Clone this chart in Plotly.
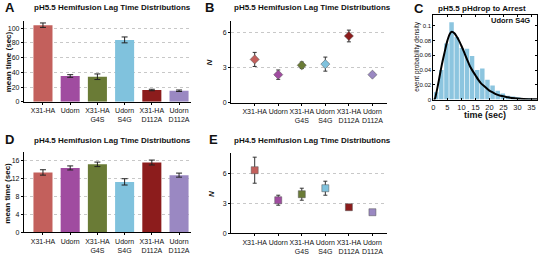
import plotly.graph_objects as go

W, H = 538, 256
FONT = "Liberation Sans"

categories = ["X31-HA", "Udorn", "X31-HA G4S", "Udorn S4G", "X31-HA D112A", "Udorn D112A"]
tick_labels = ["X31-HA", "Udorn", "X31-HA<br>G4S", "Udorn<br>S4G", "X31-HA<br>D112A", "Udorn<br>D112A"]
colors = ["#c3605c", "#a04ca0", "#6a7b36", "#80c2dd", "#8c1c1c", "#9a88c2"]

# Panel A: pH5.5 mean time (sec)
a_mean = [104, 35, 34, 84, 16, 15]
a_err = [3, 1.8, 3.8, 4, 1, 1]
# Panel B: pH5.5 N
b_n = [3.7, 2.4, 3.2, 3.3, 5.7, 2.4]
b_err = [0.6, 0.4, 0.28, 0.6, 0.5, 0.15]
# Panel D: pH4.5 mean time (sec)
d_mean = [13.3, 14.3, 15.1, 11.2, 15.5, 12.7]
d_err = [0.6, 0.45, 0.5, 0.7, 0.55, 0.45]
# Panel E: pH4.5 N
e_n = [6.3, 3.3, 3.9, 4.5, 2.6, 2.1]
e_err = [1.3, 0.5, 0.6, 0.7, 0.2, 0.1]

# Panel C: histogram (bin centers, densities) and fitted curve
c_bin_centers = [1.0, 2.83, 4.66, 6.49, 8.32, 10.15, 11.98, 13.81, 15.64, 17.47, 19.3,
                 21.13, 22.96, 24.79, 26.62, 28.45, 30.28, 32.11, 33.94, 35.77]
c_density = [0.01, 0.04, 0.076, 0.105, 0.085, 0.07, 0.069, 0.059, 0.04, 0.042, 0.027,
             0.019, 0.012, 0.008, 0.005, 0.004, 0.003, 0.002, 0.002, 0.001]
c_bin_width = 1.6
fit_t = [0, 0.5, 1, 2, 3, 4, 5, 6, 6.6, 7.5, 9, 10, 11.3, 12.5, 13.5, 15, 16, 17, 18.5,
         20, 21, 22.5, 24, 26, 28, 31, 34, 38]
fit_p = [0, 0.001, 0.008, 0.027, 0.047, 0.064, 0.08, 0.09, 0.092, 0.09, 0.081, 0.073,
         0.061, 0.05, 0.042, 0.033, 0.027, 0.022, 0.017, 0.012, 0.010, 0.007, 0.005,
         0.0035, 0.002, 0.001, 0.0005, 0.0002]


def px(x):
    return x / W


def py(y):
    return 1 - y / H


fig = go.Figure()

# A
fig.add_trace(go.Bar(x=categories, y=a_mean, marker=dict(color=colors, line=dict(width=0)),
                     width=0.7,
                     error_y=dict(type="data", array=a_err, color="#222", thickness=1, width=3),
                     xaxis="x", yaxis="y", showlegend=False))
# D
fig.add_trace(go.Bar(x=categories, y=d_mean, marker=dict(color=colors, line=dict(width=0)),
                     width=0.7,
                     error_y=dict(type="data", array=d_err, color="#222", thickness=1, width=3),
                     xaxis="x4", yaxis="y4", showlegend=False))
# B
fig.add_trace(go.Scatter(x=categories, y=b_n, mode="markers",
                         marker=dict(color=colors, symbol="diamond", size=7,
                                     line=dict(width=0.5, color="#555")),
                         error_y=dict(type="data", array=b_err, color="#333", thickness=1, width=2),
                         xaxis="x2", yaxis="y2", showlegend=False))
# E
fig.add_trace(go.Scatter(x=categories, y=e_n, mode="markers",
                         marker=dict(color=colors, symbol="square", size=7,
                                     line=dict(width=0.5, color="#555")),
                         error_y=dict(type="data", array=e_err, color="#333", thickness=1, width=2),
                         xaxis="x5", yaxis="y5", showlegend=False))
# C
fig.add_trace(go.Bar(x=c_bin_centers, y=c_density, width=c_bin_width,
                     marker=dict(color="#8cc5df", line=dict(width=0)),
                     xaxis="x3", yaxis="y3", showlegend=False))
fig.add_trace(go.Scatter(x=fit_t, y=fit_p, mode="lines", line=dict(color="black", width=2, shape="spline"),
                         xaxis="x3", yaxis="y3", showlegend=False))

tickfont = dict(family=FONT, size=7, color="#111")


def cat_xaxis(domain, rng):
    return dict(domain=domain, range=rng, type="category", showline=True, linecolor="black",
                linewidth=1, tickvals=categories, ticktext=tick_labels, tickfont=tickfont,
                tickangle=0, ticks="outside", ticklen=2, tickcolor="black", showgrid=False,
                zeroline=False, fixedrange=True)


def val_yaxis(domain, rng, dtick, anchor):
    return dict(domain=domain, range=rng, dtick=dtick, showline=True, linecolor="black", linewidth=1,
                ticks="outside", ticklen=2, tickcolor="black", tickfont=tickfont,
                showgrid=True, gridcolor="#c8c8c8", griddash="dot", gridwidth=1,
                zeroline=False, anchor=anchor)


A_x = [px(22), px(190)]
B_x = [px(230), px(386)]
fig.update_layout(
    width=W, height=H, margin=dict(l=0, r=0, t=0, b=0),
    paper_bgcolor="white", plot_bgcolor="white", bargap=0.2,
    font=dict(family=FONT, color="#111"),
    xaxis=dict(cat_xaxis(A_x, [-0.7, 5.45]), anchor="y"),
    yaxis=val_yaxis([py(103), py(21)], [0, 110], 20, "x"),
    xaxis2=dict(cat_xaxis(B_x, [-1.0, 5.6]), anchor="y2"),
    yaxis2=val_yaxis([py(104), py(21)], [0, 7], 3, "x2"),
    xaxis4=dict(cat_xaxis(A_x, [-0.7, 5.45]), anchor="y4"),
    yaxis4=val_yaxis([py(235), py(154)], [0, 17.8], 4, "x4"),
    xaxis5=dict(cat_xaxis(B_x, [-1.0, 5.6]), anchor="y5"),
    yaxis5=val_yaxis([py(236), py(155)], [0, 8], 3, "x5"),
    xaxis3=dict(domain=[px(433), px(537)], range=[0, 37], anchor="y3", showline=True, mirror="ticks",
                linecolor="black", linewidth=1, ticks="inside", ticklen=2, tickcolor="black",
                tickvals=[0, 5, 10, 15, 20, 25, 30, 35], tickfont=dict(family=FONT, size=7.5, color="#111"),
                showgrid=False, zeroline=False),
    yaxis3=dict(domain=[py(100.7), py(15)], range=[0, 0.115], anchor="x3", showline=True, mirror="ticks",
                linecolor="black", linewidth=1, ticks="inside", ticklen=2, tickcolor="black",
                tickvals=[0, 0.02, 0.04, 0.06, 0.08, 0.1],
                ticktext=["0", "0.02", "0.04", "0.06", "0.08", "0.1"],
                tickfont=dict(family=FONT, size=6, color="#111"), showgrid=False, zeroline=False),
)

ann = []


def text(x, y, s, size, bold=True, angle=0, xanchor="center", italic=False):
    t = s
    if bold:
        t = "<b>" + t + "</b>"
    if italic:
        t = "<i>" + t + "</i>"
    ann.append(dict(x=px(x), y=py(y), xref="paper", yref="paper", text=t, showarrow=False,
                    font=dict(family=FONT, size=size, color="#111"), textangle=angle,
                    xanchor=xanchor, yanchor="middle"))


# panel letters
text(8, 8, "A", 13)
text(208, 8, "B", 13)
text(419, 9, "C", 13)
text(8, 141, "D", 13)
text(212, 141, "E", 13)
# titles
text(111, 8, "pH5.5 Hemifusion Lag Time Distributions", 8)
text(312, 8, "pH5.5 Hemifusion Lag Time Distributions", 8)
text(482, 9, "pH5.5 pHdrop to Arrest", 8)
text(111, 142, "pH4.5 Hemifusion Lag Time Distributions", 8)
text(312, 142, "pH4.5 Hemifusion Lag Time Distributions", 8)
# axis titles
text(6, 62, "mean time (sec)", 8, angle=-90)
text(6, 195, "mean time (sec)", 8, angle=-90)
text(208, 63, "N", 8, angle=-90, italic=True)
text(210, 196, "N", 8, angle=-90, italic=True)
text(417, 57, "event probability density", 6.5, bold=False, angle=-90)
text(485, 116, "time (sec)", 9)
text(532, 21, "Udorn S4G", 7.5, xanchor="right")

fig.update_layout(annotations=ann)
fig.write_html("out.html", config={"displayModeBar": False, "staticPlot": True},
               post_script="document.body.style.margin='0';document.body.style.padding='0';document.body.style.overflow='hidden';")
